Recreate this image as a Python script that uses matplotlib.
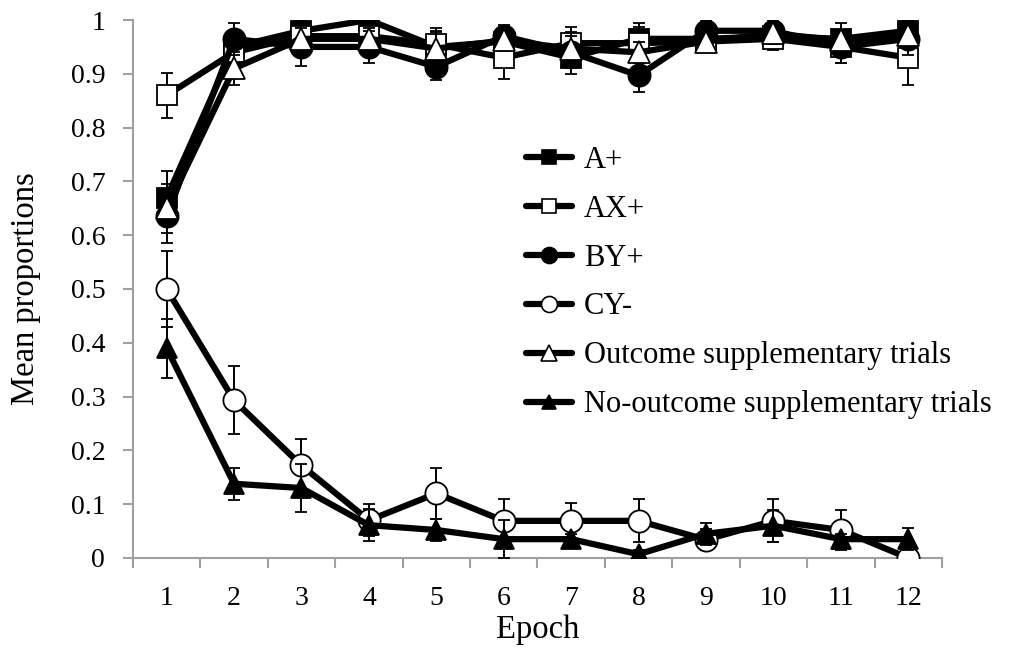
import numpy as np
import matplotlib
matplotlib.use("Agg")
import matplotlib.pyplot as plt
from matplotlib.lines import Line2D

plt.rcParams['font.family'] = ['Liberation Serif', 'DejaVu Serif']

# datos
epochs = np.arange(1, 13)
a_plus = [0.67, 0.95, 0.98, 1.0, 0.95, 0.96, 0.93, 0.965, 0.965, 0.97, 0.965, 0.98]
ax_plus = [0.86, 0.94, 0.97, 0.97, 0.955, 0.93, 0.957, 0.957, 0.96, 0.965, 0.95, 0.93]
by_plus = [0.635, 0.965, 0.95, 0.95, 0.913, 0.97, 0.94, 0.897, 0.98, 0.98, 0.95, 0.965]
cy_minus = [0.5, 0.293, 0.172, 0.07, 0.12, 0.069, 0.069, 0.069, 0.034, 0.069, 0.052, 0.0]
outcome = [0.65, 0.91, 0.965, 0.965, 0.947, 0.962, 0.947, 0.94, 0.96, 0.975, 0.962, 0.972]
no_outcome = [0.39, 0.138, 0.13, 0.061, 0.052, 0.035, 0.035, 0.007, 0.045, 0.06, 0.035, 0.035]

# errores estandar
a_plus_err = [0.05, 0.03, 0.02, 0.0, 0.03, 0.02, 0.03, 0.03, 0.02, 0.02, 0.03, 0.02]
ax_plus_err = [0.042, 0.03, 0.03, 0.02, 0.03, 0.04, 0.03, 0.03, 0.02, 0.02, 0.03, 0.05]
by_plus_err = [0.05, 0.03, 0.035, 0.03, 0.025, 0.02, 0.03, 0.03, 0.02, 0.02, 0.03, 0.03]
cy_minus_err = [0.07, 0.063, 0.05, 0.03, 0.048, 0.04, 0.033, 0.04, 0.02, 0.04, 0.037, 0.0]
outcome_err = [0.045, 0.03, 0.03, 0.02, 0.03, 0.02, 0.03, 0.02, 0.02, 0.02, 0.02, 0.02]
no_outcome_err = [0.055, 0.03, 0.045, 0.03, 0.02, 0.035, 0.01, 0.007, 0.02, 0.03, 0.01, 0.02]

series = [
    ('A+', a_plus, a_plus_err, 's', 'black', 14),
    ('AX+', ax_plus, ax_plus_err, 's', 'white', 14),
    ('BY+', by_plus, by_plus_err, 'o', 'black', 16),
    ('CY-', cy_minus, cy_minus_err, 'o', 'white', 16),
    ('Outcome supplementary trials', outcome, outcome_err, '^', 'white', 16),
    ('No-outcome supplementary trials', no_outcome, no_outcome_err, '^', 'black', 14),
]

fig = plt.figure(figsize=(10.18, 6.52), dpi=100)
ax = fig.add_axes([0.1306, 0.1442, 0.7947, 0.8251])

handles = []
for i, (name, vals, err, mk, fc, ms) in enumerate(series):
    ax.errorbar(epochs, vals, yerr=err, color='black', linewidth=4.5,
                marker=mk, markersize=ms, markerfacecolor=fc,
                markeredgecolor='black', markeredgewidth=1.3,
                ecolor='black', elinewidth=1.4, capsize=4.5, capthick=1.4,
                zorder=2 + i)
    handles.append(Line2D([], [], color='black', linewidth=4.5, marker=mk,
                          markersize=ms * 0.72, markerfacecolor=fc,
                          markeredgecolor='black', markeredgewidth=1.2,
                          solid_capstyle='round', label=name))

ax.set_xlim(0.5, 12.5)
ax.set_ylim(0, 1)
ax.set_xticks(epochs)
ax.set_xticks(np.arange(0.5, 13, 1), minor=True)
ax.set_yticks(np.arange(0, 1.01, 0.1))
ax.set_yticklabels(['0'] + ['%.1f' % v for v in np.arange(0.1, 0.95, 0.1)] + ['1'])
ax.tick_params(axis='x', which='major', length=0, labelsize=20, pad=20)
ax.tick_params(axis='x', which='minor', length=7, color='#a0a0a0', width=1.5)
ax.tick_params(axis='y', length=7, color='#a0a0a0', width=1.5, labelsize=20, pad=13)

for side in ['top', 'right']:
    ax.spines[side].set_visible(False)
for side in ['left', 'bottom']:
    ax.spines[side].set_color('#a0a0a0')
    ax.spines[side].set_linewidth(1.5)

ax.set_xlabel('Epoch', fontsize=23.5, labelpad=3)
ax.set_ylabel('Mean proportions', fontsize=23.5, labelpad=21)

leg = ax.legend(handles=handles, loc='upper left', bbox_to_anchor=(0.486, 0.766),
                frameon=False, fontsize=22, handlelength=1.5, handletextpad=0.4,
                labelspacing=0.65, borderaxespad=0, borderpad=0)

fig.savefig('out.png', dpi=100)
